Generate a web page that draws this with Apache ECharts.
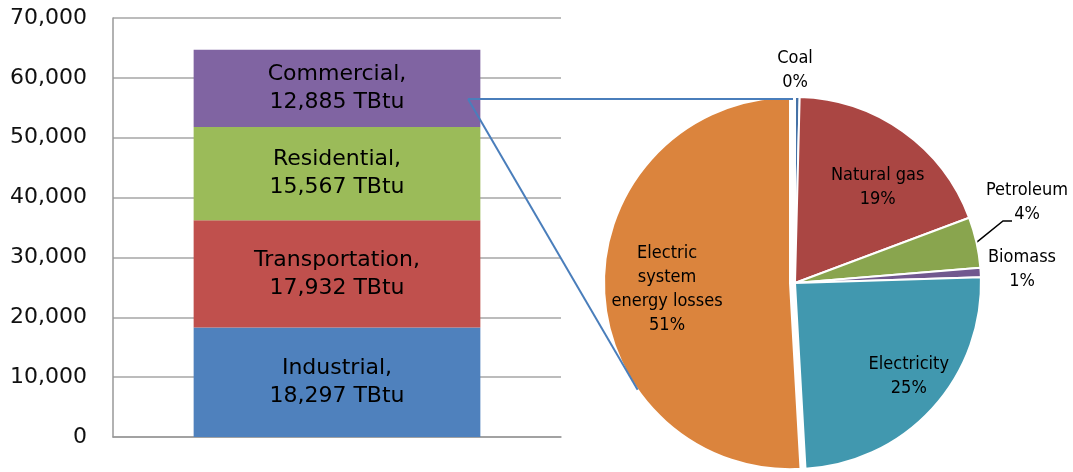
<!DOCTYPE html>
<html>
<head>
<meta charset="utf-8">
<script src="https://cdn.jsdelivr.net/npm/echarts@6/dist/echarts.min.js"></script>
<style>
html, body { margin: 0; padding: 0; background: #fff; }
#chart { width: 1073px; height: 472px; }
</style>
</head>
<body>
<div id="chart"></div>
<script>
// Left: end-use sectors, stacked (TBtu)
var sectors = ['Industrial', 'Transportation', 'Residential', 'Commercial'];
var sectorValues = [18297, 17932, 15567, 12885];
var sectorColors = ['#4F81BD', '#C0504D', '#9BBB59', '#8064A2'];

// Right: commercial sector by source (% share)
var sources = ['Coal', 'Natural gas', 'Petroleum', 'Biomass', 'Electricity', 'Electric system energy losses'];
var sourceLabels = ['Coal', 'Natural gas', 'Petroleum', 'Biomass', 'Electricity', 'Electric\nsystem\nenergy losses'];
var sourceShares = [0.4, 18.9, 4.4, 0.8, 24.6, 50.9];
var sourceColors = ['#4572A7', '#AA4643', '#89A54E', '#71588F', '#4198AF', '#DB843D'];

// y axis
var yMin = 0, yMax = 70000, yStep = 10000;

// layout
var PIE_CX = 795, PIE_CY = 283, PIE_R = 186;
var FONT = "'DejaVu Sans', sans-serif";
var PIE_FONT = "'DejaVu Sans Condensed', 'DejaVu Sans', sans-serif";

function fmt(n) { return n.toLocaleString('en-US'); }

// mid angle (deg, clockwise from top) of each pie slice
var total = sourceShares.reduce(function (a, b) { return a + b; }, 0);
var midAngles = [];
var acc = 0;
sourceShares.forEach(function (v) {
    midAngles.push((acc + v / 2) / total * 360);
    acc += v;
});
function edgePoint(angleDeg, r, cx, cy) {
    var a = angleDeg * Math.PI / 180;
    return [cx + r * Math.sin(a), cy - r * Math.cos(a)];
}

// label tweaks: inside ones shifted, outside ones placed relative to pie centre
var insideShift = { 1: [27, -17], 4: [43, 28], 5: [-27, 3] };
var outsidePos = { 0: [0, -213], 2: [232, -81], 3: [227, -14] };

var barSeries = sectors.map(function (name, i) {
    return {
        name: name,
        type: 'bar',
        stack: 'total',
        barWidth: '64%',
        data: [sectorValues[i]],
        itemStyle: { color: sectorColors[i] },
        label: {
            show: true,
            position: 'inside',
            color: '#000',
            fontFamily: FONT,
            fontSize: 22,
            lineHeight: 28,
            formatter: function (p) { return p.seriesName + ',\n' + fmt(p.value) + ' TBtu'; }
        }
    };
});

var pieData = sources.map(function (name, i) {
    var item = {
        name: name,
        value: sourceShares[i],
        itemStyle: { color: sourceColors[i] },
        labelLine: { show: i === 2, lineStyle: { color: '#000', width: 1.5 } }
    };
    if (i === 5) item.selected = true;
    if (outsidePos[i]) item.label = { position: 'outside' };
    return item;
});

var connectStart = [468, 99];
var connectEnd2 = edgePoint(235, PIE_R, PIE_CX - 5, PIE_CY);

var option = {
    animation: false,
    backgroundColor: '#fff',
    grid: { left: 113, top: 18, width: 448, height: 419 },
    xAxis: {
        type: 'category',
        data: [''],
        axisTick: { show: false },
        axisLabel: { show: false },
        axisLine: { lineStyle: { color: '#999', width: 1.5 } }
    },
    yAxis: {
        type: 'value',
        min: yMin,
        max: yMax,
        interval: yStep,
        axisLine: { show: true, lineStyle: { color: '#999', width: 1.5 } },
        axisTick: { show: false },
        splitLine: { lineStyle: { color: '#a6a6a6', width: 1.5 } },
        axisLabel: {
            margin: 26,
            color: '#111',
            fontFamily: FONT,
            fontSize: 22,
            formatter: function (v) { return fmt(v); }
        }
    },
    series: barSeries.concat([{
        type: 'pie',
        center: [PIE_CX, PIE_CY],
        radius: PIE_R,
        startAngle: 90,
        clockwise: true,
        selectedMode: 'single',
        selectedOffset: 5,
        avoidLabelOverlap: false,
        z: 3,
        itemStyle: { borderColor: '#fff', borderWidth: 2 },
        emphasis: { disabled: true },
        label: {
            show: true,
            position: 'inside',
            color: '#000',
            fontFamily: PIE_FONT,
            fontSize: 18,
            lineHeight: 24,
            formatter: function (p) {
                return sourceLabels[p.dataIndex] + '\n' + Math.round(p.value / total * 100) + '%';
            }
        },
        labelLayout: function (p) {
            var i = p.dataIndex;
            if (outsidePos[i]) {
                var res = {
                    x: PIE_CX + outsidePos[i][0],
                    y: PIE_CY + outsidePos[i][1],
                    align: 'center',
                    verticalAlign: 'middle'
                };
                if (i === 2) {
                    res.labelLinePoints = [
                        edgePoint(midAngles[2], PIE_R, PIE_CX, PIE_CY),
                        [PIE_CX + 208, PIE_CY - 62],
                        [PIE_CX + 217, PIE_CY - 62]
                    ];
                }
                return res;
            }
            return { dx: insideShift[i][0], dy: insideShift[i][1] };
        },
        data: pieData
    }]),
    graphic: [{
        type: 'polyline',
        z: 10,
        shape: { points: [connectStart, [PIE_CX - 2, connectStart[1]]] },
        style: { stroke: '#4A7EBB', lineWidth: 2, fill: null }
    }, {
        type: 'polyline',
        z: 10,
        shape: { points: [connectStart, connectEnd2] },
        style: { stroke: '#4A7EBB', lineWidth: 2, fill: null }
    }]
};

var chart = echarts.init(document.getElementById('chart'));
chart.setOption(option);
</script>
</body>
</html>
